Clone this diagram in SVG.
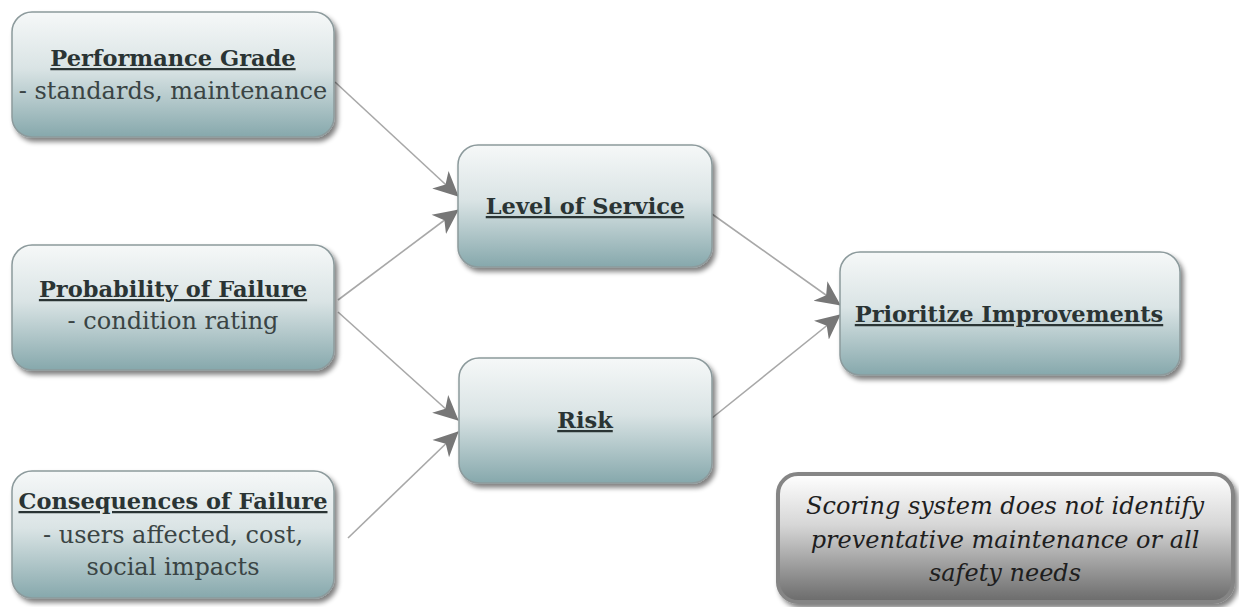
<svg xmlns="http://www.w3.org/2000/svg" width="1239" height="607" viewBox="0 0 1239 607">
<defs>
<linearGradient id="g" x1="0" y1="0" x2="0" y2="1">
<stop offset="0" stop-color="#f6f8f8"/>
<stop offset="0.45" stop-color="#dae4e5"/>
<stop offset="1" stop-color="#86a8ac"/>
</linearGradient>
<linearGradient id="gg" x1="0" y1="0" x2="0" y2="1">
<stop offset="0" stop-color="#ffffff"/>
<stop offset="0.4" stop-color="#d6d6d6"/>
<stop offset="1" stop-color="#6a6a6a"/>
</linearGradient>
<filter id="sh" x="-10%" y="-10%" width="125%" height="130%">
<feGaussianBlur in="SourceAlpha" stdDeviation="2.5"/>
<feOffset dx="3" dy="4"/>
<feComponentTransfer><feFuncA type="linear" slope="0.5"/></feComponentTransfer>
<feMerge><feMergeNode/><feMergeNode in="SourceGraphic"/></feMerge>
</filter>
<marker id="ah" markerWidth="26" markerHeight="26" viewBox="0 0 26 26" refX="24" refY="13" orient="auto" markerUnits="userSpaceOnUse">
<path d="M0,1 L25,13 L0,25 L7,13 Z" fill="#777777"/>
</marker>
</defs>
<style>
.box{fill:url(#g);stroke:#8c9a9c;stroke-width:1.5;filter:url(#sh)}
.note{fill:url(#gg);stroke:#858585;stroke-width:4;filter:url(#sh)}
.t{font-family:"DejaVu Serif",serif;font-size:24px;fill:#3a4444;text-anchor:middle}
.b{font-weight:bold;font-size:22.5px;text-decoration:underline;fill:#2a3434}
.i{font-style:italic;font-size:24px;fill:#1e1e1e}
.c{stroke:#a8a8a8;stroke-width:1.6;fill:none;marker-end:url(#ah)}
</style>
<rect width="1239" height="607" fill="#ffffff"/>
<g id="connectors">
<line class="c" x1="335" y1="82" x2="458" y2="196"/>
<line class="c" x1="338" y1="300" x2="458" y2="210"/>
<line class="c" x1="338" y1="312" x2="458" y2="420"/>
<line class="c" x1="348" y1="538" x2="458" y2="432"/>
<line class="c" x1="712" y1="214" x2="840" y2="305"/>
<line class="c" x1="712" y1="418" x2="840" y2="315"/>
</g>
<g id="performance">
<rect class="box" x="12" y="12" width="322" height="125" rx="20"/>
<text class="t b" x="173" y="66">Performance Grade</text>
<text class="t" x="173" y="99">- standards, maintenance</text>
</g>
<g id="probability">
<rect class="box" x="12" y="245" width="322" height="125" rx="20"/>
<text class="t b" x="173" y="297">Probability of Failure</text>
<text class="t" x="173" y="329">- condition rating</text>
</g>
<g id="consequences">
<rect class="box" x="12" y="471" width="322" height="127" rx="20"/>
<text class="t b" x="173" y="509">Consequences of Failure</text>
<text class="t" x="173" y="543">- users affected, cost,</text>
<text class="t" x="173" y="575">social impacts</text>
</g>
<g id="los">
<rect class="box" x="458" y="145" width="254" height="122" rx="20"/>
<text class="t b" x="585" y="214">Level of Service</text>
</g>
<g id="risk">
<rect class="box" x="459" y="358" width="253" height="125" rx="20"/>
<text class="t b" x="585" y="428">Risk</text>
</g>
<g id="prioritize">
<rect class="box" x="840" y="252" width="340" height="123" rx="20"/>
<text class="t b" x="1009" y="322">Prioritize Improvements</text>
</g>
<g id="note">
<rect class="note" x="778" y="474" width="455" height="128" rx="20"/>
<text class="t i" x="1005" y="514">Scoring system does not identify</text>
<text class="t i" x="1005" y="548">preventative maintenance or all</text>
<text class="t i" x="1005" y="581">safety needs</text>
</g>
</svg>
